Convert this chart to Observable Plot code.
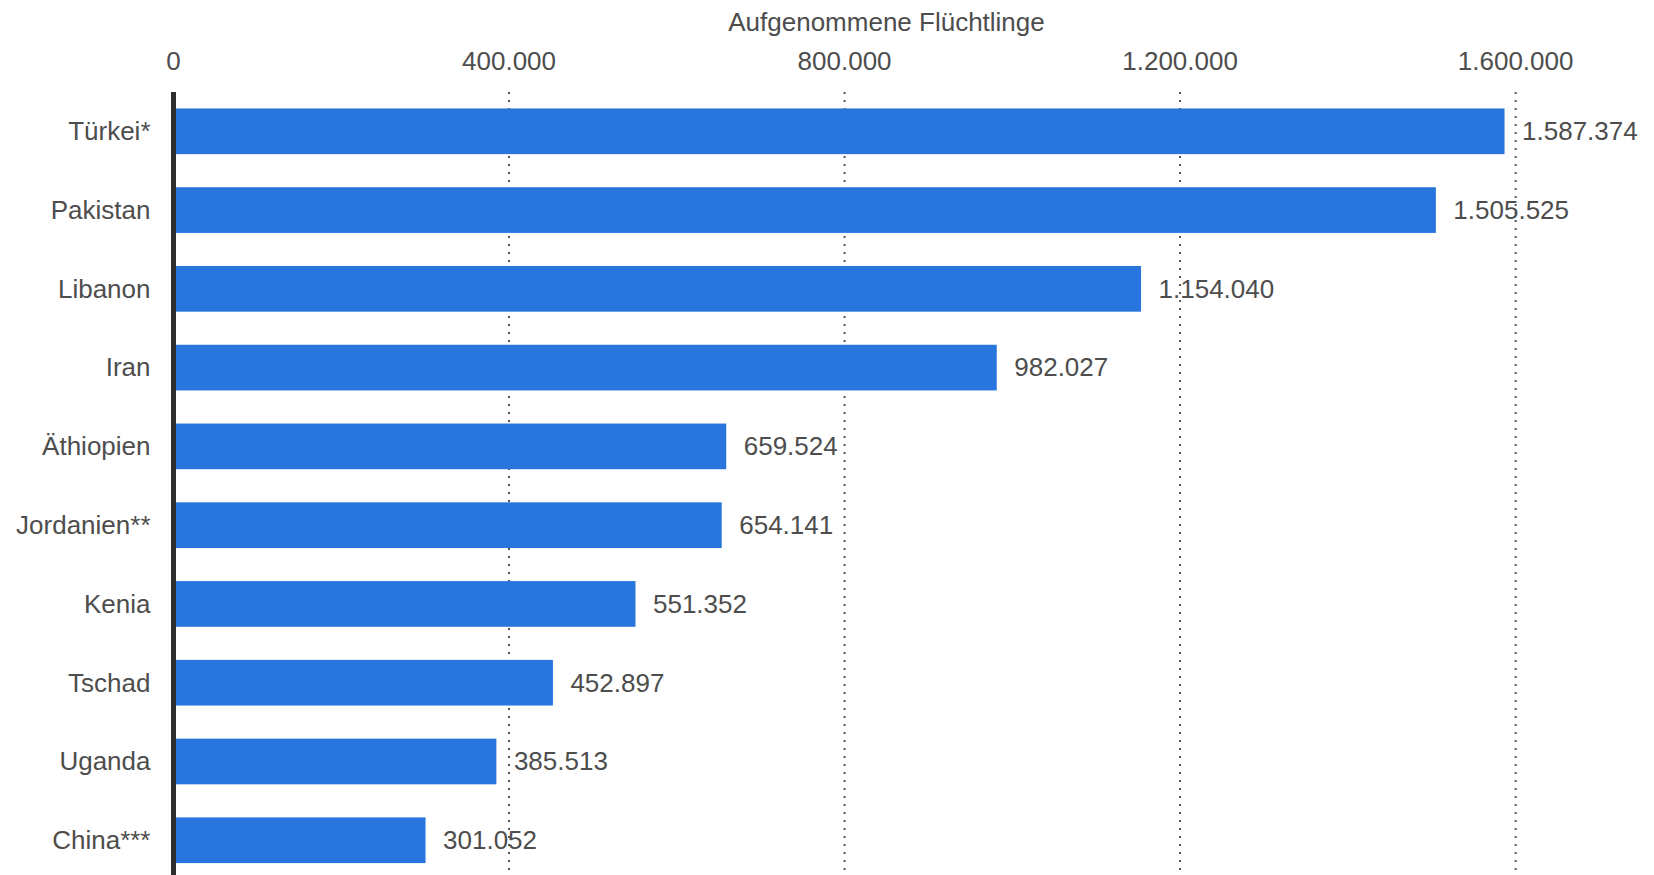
<!DOCTYPE html>
<html>
<head>
<meta charset="utf-8">
<script src="https://cdn.jsdelivr.net/npm/d3@7"></script>
<script src="https://cdn.jsdelivr.net/npm/@observablehq/plot@0.6"></script>
<style>
  html, body { margin: 0; padding: 0; background: #fff; overflow: hidden; }
  #chart svg { display: block; }
</style>
</head>
<body>
<div id="chart"></div>
<script>
const countries = ["Türkei*", "Pakistan", "Libanon", "Iran", "Äthiopien", "Jordanien**", "Kenia", "Tschad", "Uganda", "China***"];
const refugees = [1587374, 1505525, 1154040, 982027, 659524, 654141, 551352, 452897, 385513, 301052];
const xTicks = [0, 400000, 800000, 1200000, 1600000];
const gridTicks = [400000, 800000, 1200000, 1600000];
const axisTitle = "Aufgenommene Flüchtlinge";

const data = countries.map((c, i) => ({country: c, value: refugees[i]}));
const de = d3.formatLocale({decimal: ",", thousands: ".", grouping: [3], currency: ["", " €"]});
const fmt = de.format(",d");

const chart = Plot.plot({
  width: 1654,
  height: 875,
  marginTop: 92,
  marginBottom: 0,
  marginLeft: 173,
  marginRight: 55,
  style: {fontFamily: "'Liberation Sans', Arial, sans-serif", fontSize: "26px", color: "#4d4d4d", background: "#fff"},
  x: {domain: [0, 1700000]},
  y: {domain: countries, paddingInner: 0.42, paddingOuter: 0.18, align: 0.58, round: false},
  marks: [
    Plot.ruleX(gridTicks, {stroke: "#555", strokeWidth: 2, strokeDasharray: "2,6"}),
    Plot.barX(data, {x: "value", y: "country", fill: "#2876dd"}),
    Plot.ruleX([0], {stroke: "#2d2d2d", strokeWidth: 5}),
    Plot.text(data, {x: "value", y: "country", text: d => fmt(d.value), textAnchor: "start", dx: 17, fill: "#4d4d4d"}),
    Plot.axisY({tickSize: 0, tickPadding: 23, label: null, fill: "#4d4d4d"}),
    Plot.axisX({anchor: "top", ticks: xTicks, tickSize: 0, tickPadding: 23, tickFormat: fmt, label: null, fill: "#4d4d4d"}),
    Plot.text([axisTitle], {frameAnchor: "top", dy: -70, lineAnchor: "middle", fill: "#4d4d4d"})
  ]
});
document.getElementById("chart").appendChild(chart);
</script>
</body>
</html>
